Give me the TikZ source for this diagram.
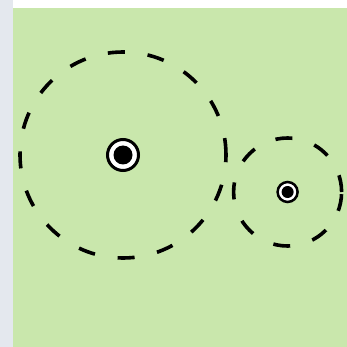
\documentclass[tikz,border=0pt]{standalone}
\usepackage{tikz}
\usetikzlibrary{positioning}
\definecolor{LawnGreen}{RGB}{201,231,172}
\definecolor{EdgeGrey}{RGB}{228,232,238}

\begin{document}
\begin{tikzpicture}[x=1pt, y=-1pt,
    zone/.style={circle, draw=black, line width=3.6pt, dash pattern=on 17pt off 23pt, inner sep=0pt},
    ring/.style={circle, draw=black, fill=white, inner sep=0pt},
    dot/.style={circle, fill=black, inner sep=0pt}]
    \useasboundingbox (0,0) rectangle (347,347);
    \fill[white] (0,0) rectangle (347,347);
    \fill[EdgeGrey] (0,0) rectangle (13,347);
    \fill[LawnGreen] (13,8) rectangle (347,347);

    \node[zone, minimum size=206pt] (bigzone) at (123,155) {};
    \node[zone, minimum size=108pt, right=4pt of bigzone.east, anchor=west, yshift=-37pt] (smallzone) {};

    \node[ring, line width=3pt, minimum size=31pt] (bigring) at (bigzone.center) {};
    \node[dot, minimum size=19pt] (bigdot) at (bigring.center) {};
    \node[ring, line width=2.5pt, minimum size=20pt] (smallring) at (smallzone.center) {};
    \node[dot, minimum size=12pt] (smalldot) at (smallring.center) {};
  \end{tikzpicture}
\end{document}
